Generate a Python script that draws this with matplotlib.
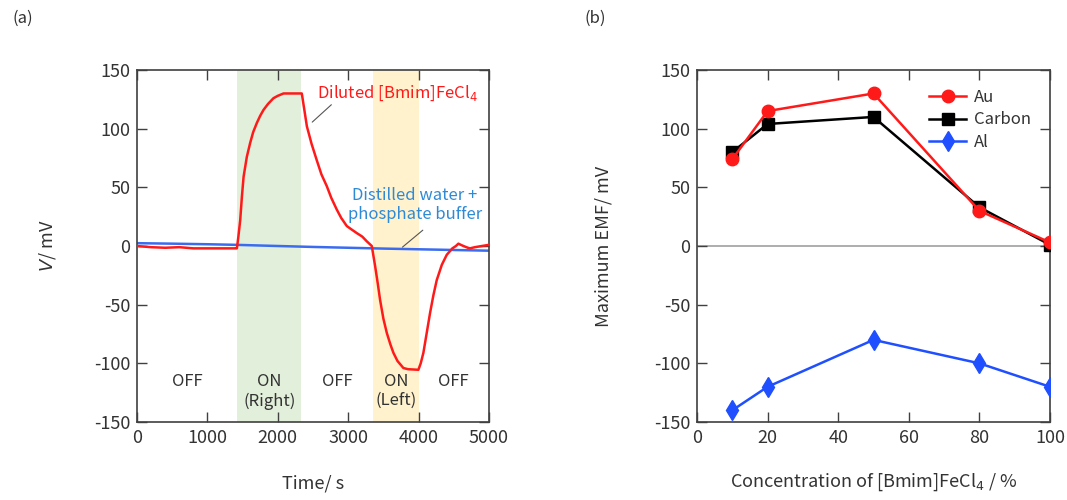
import matplotlib
matplotlib.use("Agg")
import matplotlib.pyplot as plt

plt.rcParams['font.family'] = ['Noto Sans CJK JP', 'DejaVu Sans']
plt.rcParams['axes.unicode_minus'] = False

# ---- Panel (a) data ----
time_red = [0, 200, 400, 600, 800, 1000, 1200, 1400, 1419, 1440, 1466, 1490, 1514, 1560, 1608,
            1650, 1703, 1750, 1797, 1860, 1939, 2000, 2081, 2200, 2341, 2413, 2480, 2554, 2620,
            2696, 2760, 2838, 2900, 2980, 3050, 3122, 3200, 3264, 3335, 3382, 3420, 3453, 3500,
            3548, 3600, 3642, 3700, 3784, 3850, 3997, 4030, 4068, 4110, 4163, 4210, 4258, 4330,
            4400, 4480, 4530, 4565, 4600, 4636, 4700, 4730, 4800, 4900, 5000]
volt_red = [0, -1, -1.5, -1, -2, -2, -2, -2, -2, 8, 22, 42, 59, 76, 88,
            97, 105, 111, 116, 121, 126, 128, 130, 130, 130, 102, 87, 73, 61,
            51, 41, 31, 24, 17, 14, 11, 8, 4, 0, -17, -32, -46, -62,
            -74, -84, -91, -98, -104, -105, -105.5, -100, -91, -76, -57, -42, -29, -16,
            -7.5, -2, 0, 2, 1, 0, -1.5, -2, -1, 0, 1]

time_blue = [0, 500, 1000, 1400, 2000, 2500, 3000, 3500, 4000, 4500, 5000]
volt_blue = [2.4, 2.0, 1.5, 1.0, 0.0, -0.8, -1.5, -2.2, -2.8, -3.4, -4.0]

on_right = (1425, 2335)
on_left = (3355, 4000)

state_x = [710, 1880, 2840, 3675, 4500]
state_labels = ['OFF', 'ON\n(Right)', 'OFF', 'ON\n(Left)', 'OFF']

# ---- Panel (b) data ----
conc = [10, 20, 50, 80, 100]
emf_au = [74, 115, 130, 30, 3]
emf_carbon = [80, 104, 110, 33, 1]
emf_al = [-140, -120, -80, -100, -120]

text_col = '#333333'
spine_col = '#404040'

fig = plt.figure(figsize=(10.67, 5.0), dpi=100)
ax1 = fig.add_axes([137/1067, 1-422/500, 352/1067, 352/500])
ax2 = fig.add_axes([697/1067, 1-422/500, 353/1067, 352/500])

for ax in (ax1, ax2):
    ax.tick_params(direction='in', length=7, width=1, top=True, right=True,
                   labelsize=13, colors=spine_col, labelcolor=text_col, pad=5)
    for s in ax.spines.values():
        s.set_color(spine_col)
        s.set_linewidth(1.2)

# Panel (a)
ax1.axvspan(*on_right, color='#e2efda', lw=0, zorder=0)
ax1.axvspan(*on_left, color='#fff2cc', lw=0, zorder=0)
ax1.plot(time_blue, volt_blue, color='#3b6cf0', lw=1.8, zorder=2)
ax1.plot(time_red, volt_red, color='#ff1a1a', lw=1.8, zorder=3)
ax1.set_xlim(0, 5000)
ax1.set_ylim(-150, 150)
ax1.set_xticks([0, 1000, 2000, 3000, 4000, 5000])
ax1.set_yticks([-150, -100, -50, 0, 50, 100, 150])
ax1.set_xlabel('Time/ s', fontsize=13, color=text_col, labelpad=20)
ax1.set_ylabel(r'$V$/ mV', fontsize=13, color=text_col, labelpad=26)

ax1.annotate('', xy=(2460, 104), xytext=(2790, 122),
             arrowprops=dict(arrowstyle='-', color='#555555', lw=0.8))
ax1.text(2560, 130, r'Diluted [Bmim]FeCl$_4$', color='#ff1a1a', fontsize=12,
         ha='left', va='center')
ax1.annotate('', xy=(3740, -2.5), xytext=(4090, 15),
             arrowprops=dict(arrowstyle='-', color='#555555', lw=0.8))
ax1.text(3950, 35, 'Distilled water +\nphosphate buffer', color='#2f8ad6',
         fontsize=12, ha='center', va='center', linespacing=1.15)

for x, lab in zip(state_x, state_labels):
    if '\n' in lab:
        ax1.text(x, -108, lab, ha='center', va='top', fontsize=12,
                 color=text_col, linespacing=1.2)
    else:
        ax1.text(x, -115.5, lab, ha='center', va='center', fontsize=12,
                 color=text_col)

# Panel (b)
ax2.axhline(0, color='#a0a0a0', lw=1.2, zorder=1)
ax2.plot(conc, emf_au, color='#ff1a1a', lw=1.8, marker='o', ms=9, label='Au', zorder=4)
ax2.plot(conc, emf_carbon, color='black', lw=1.8, marker='s', ms=8, label='Carbon', zorder=3)
ax2.plot(conc, emf_al, color='#1f4fff', lw=1.8, marker='d', ms=10, label='Al', zorder=3)
ax2.set_xlim(0, 100)
ax2.set_ylim(-150, 150)
ax2.set_xticks([0, 20, 40, 60, 80, 100])
ax2.set_yticks([-150, -100, -50, 0, 50, 100, 150])
ax2.set_xlabel(r'Concentration of [Bmim]FeCl$_4$ / %', fontsize=13, color=text_col, labelpad=18)
ax2.set_ylabel('Maximum EMF/ mV', fontsize=13, color=text_col, labelpad=30)
leg = ax2.legend(loc='upper right', frameon=False, fontsize=12, handlelength=2.2,
                 borderaxespad=0.4, labelspacing=0.35, handletextpad=0.5,
                 bbox_to_anchor=(0.985, 0.985))
for t in leg.get_texts():
    t.set_color(text_col)

fig.text(12/1067, 1-18/500, '(a)', fontsize=12, color=text_col, va='center')
fig.text(585/1067, 1-18/500, '(b)', fontsize=12, color=text_col, va='center')

fig.savefig('out.png', dpi=100)
